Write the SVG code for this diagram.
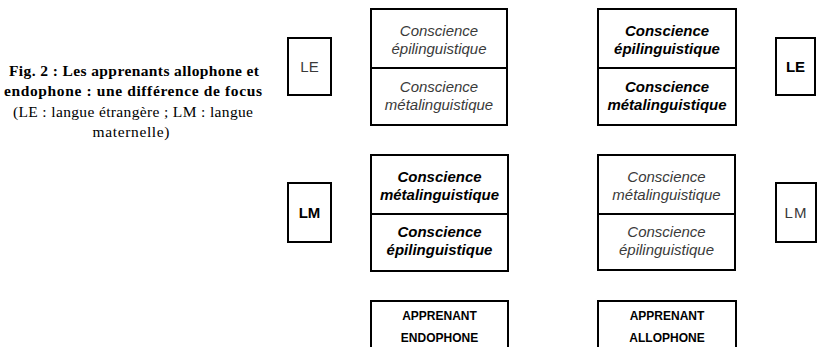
<svg xmlns="http://www.w3.org/2000/svg" width="820" height="347" viewBox="0 0 820 347">
<style>
.box{fill:#fff;stroke:#000;stroke-width:2}
.cap{font-family:"Liberation Serif","Times New Roman",serif;font-size:15.5px;fill:#000;text-anchor:middle}
.b{font-weight:bold}
.t{font-family:"Liberation Sans",Arial,sans-serif;font-size:15px;font-style:italic;text-anchor:middle}
.dim{fill:#3a3a3a}
.hi{fill:#000;font-weight:bold}
.lab{font-family:"Liberation Sans",Arial,sans-serif;font-size:15px;text-anchor:middle}
.ap{font-family:"Liberation Sans",Arial,sans-serif;font-size:12px;font-weight:bold;text-anchor:middle;fill:#000}
</style>
<rect width="820" height="347" fill="#fff"/>
<g id="caption">
<text class="cap b" x="134" y="76" textLength="250" lengthAdjust="spacing">Fig. 2 : Les apprenants allophone et</text>
<text class="cap b" x="133" y="96" textLength="258" lengthAdjust="spacing">endophone : une différence de focus</text>
<text class="cap" x="133" y="117" textLength="240" lengthAdjust="spacing">(LE : langue étrangère ; LM : langue</text>
<text class="cap" x="131" y="137" textLength="77" lengthAdjust="spacing">maternelle)</text>
</g>
<g id="le-left">
<rect class="box" x="288" y="38" width="43" height="57"/>
<text class="lab dim" x="309.5" y="72">LE</text>
</g>
<g id="lm-left">
<rect class="box" x="288" y="183" width="43" height="59"/>
<text class="lab hi" x="309.5" y="218">LM</text>
</g>
<g id="le-right">
<rect class="box" x="776" y="38" width="39" height="57"/>
<text class="lab hi" x="795.5" y="72">LE</text>
</g>
<g id="lm-right">
<rect class="box" x="776" y="183" width="40" height="59"/>
<text class="lab dim" x="796" y="218" letter-spacing="1">LM</text>
</g>
<g id="endo-le">
<rect class="box" x="371" y="9" width="136" height="116"/>
<line x1="371" y1="68" x2="507" y2="68" stroke="#000" stroke-width="2"/>
<text class="t dim" x="439" y="36">Conscience</text>
<text class="t dim" x="439" y="54">épilinguistique</text>
<text class="t dim" x="439" y="92">Conscience</text>
<text class="t dim" x="439" y="110">métalinguistique</text>
</g>
<g id="allo-le">
<rect class="box" x="598" y="9" width="138" height="116"/>
<line x1="598" y1="68" x2="736" y2="68" stroke="#000" stroke-width="2"/>
<text class="t hi" x="667" y="36">Conscience</text>
<text class="t hi" x="667" y="54">épilinguistique</text>
<text class="t hi" x="667" y="92">Conscience</text>
<text class="t hi" x="667" y="110">métalinguistique</text>
</g>
<g id="endo-lm">
<rect class="box" x="371" y="155" width="137" height="116"/>
<line x1="371" y1="214" x2="508" y2="214" stroke="#000" stroke-width="2"/>
<text class="t hi" x="439.5" y="182">Conscience</text>
<text class="t hi" x="439.5" y="200">métalinguistique</text>
<text class="t hi" x="439.5" y="237">Conscience</text>
<text class="t hi" x="439.5" y="255">épilinguistique</text>
</g>
<g id="allo-lm">
<rect class="box" x="598" y="155" width="137" height="115"/>
<line x1="598" y1="214" x2="735" y2="214" stroke="#000" stroke-width="2"/>
<text class="t dim" x="666.5" y="182">Conscience</text>
<text class="t dim" x="666.5" y="200">métalinguistique</text>
<text class="t dim" x="666.5" y="237">Conscience</text>
<text class="t dim" x="666.5" y="255">épilinguistique</text>
</g>
<g id="endophone">
<rect class="box" x="371" y="301" width="137" height="60"/>
<text class="ap" x="439.5" y="320">APPRENANT</text>
<text class="ap" x="439.5" y="342">ENDOPHONE</text>
</g>
<g id="allophone">
<rect class="box" x="598" y="301" width="138" height="60"/>
<text class="ap" x="667" y="320">APPRENANT</text>
<text class="ap" x="667" y="342">ALLOPHONE</text>
</g>
</svg>
